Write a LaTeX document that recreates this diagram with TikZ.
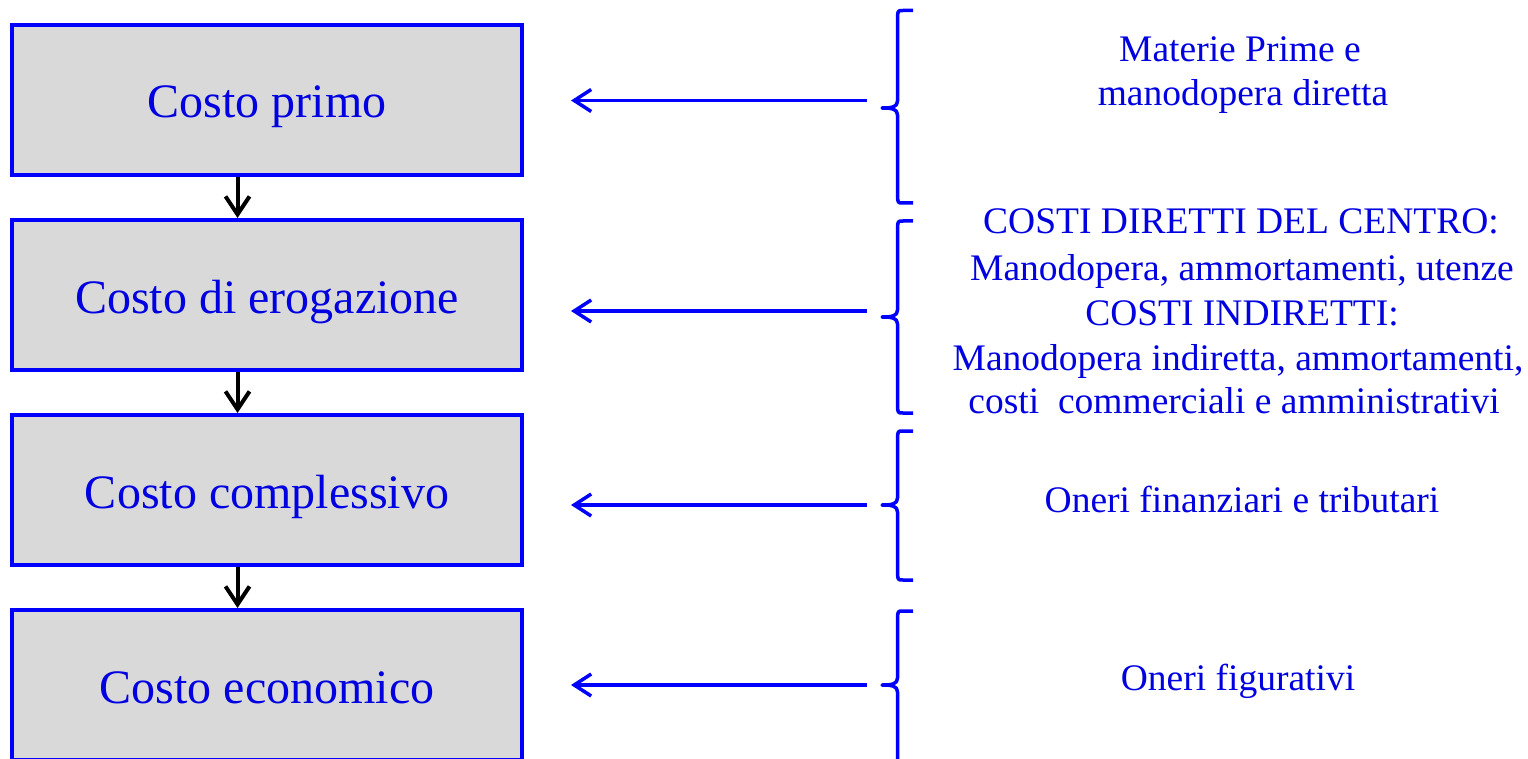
\documentclass[tikz,border=0pt]{standalone}
\usepackage{fontspec}
\setmainfont{Liberation Serif}
\usetikzlibrary{arrows.meta}
\definecolor{lineblue}{RGB}{0,0,255}
\definecolor{textblue}{RGB}{0,0,225}
\definecolor{boxgray}{RGB}{217,217,217}
\tikzset{
  costbox/.style={draw=lineblue, fill=boxgray, line width=4pt, inner sep=0pt,
    minimum width=510pt, minimum height=150pt},
  boxtext/.style={text=textblue, font=\fontsize{48}{56}\selectfont, anchor=base, inner sep=0pt},
  sidetext/.style={text=textblue, font=\fontsize{37.5}{44}\selectfont, anchor=base, inner sep=0pt},
  downarrow/.style={draw=black, line width=4pt, -{Straight Barb[length=18pt,width=24pt]}},
  bluearrow/.style={draw=lineblue, line width=3.5pt, -{Straight Barb[length=17pt,width=22pt]}},
  bracestyle/.style={draw=lineblue, line width=3.5pt, line join=round}
}
\newcommand{\sidebrace}[3]{%
  \draw[bracestyle] (913,#1) -- (903,#1) .. controls (898,#1) .. (897.5,#1+6) -- (897.5,#2-7)
    .. controls (897.5,#2-1) and (892,#2) .. (882,#2)
    .. controls (892,#2) and (897.5,#2+1) .. (897.5,#2+7) -- (897.5,#3-6)
    .. controls (898,#3) .. (903,#3) -- (913,#3);}
\begin{document}
\begin{tikzpicture}[x=1pt,y=-1pt]
\clip (0,0) rectangle (1528,759);
\fill[white] (0,0) rectangle (1528,759);

% boxes
\node[costbox] (b1) at (267,100) {};
\node[costbox] (b2) at (267,295) {};
\node[costbox] (b3) at (267,490) {};
\node[costbox] (b4) at (267,685) {};

\node[boxtext] (t1) at (267,118) {Costo primo};
\node[boxtext] (t2) at (267,313) {Costo di erogazione};
\node[boxtext] (t3) at (267,508) {Costo complessivo};
\node[boxtext] (t4) at (267,703) {Costo economico};

% down arrows
\draw[downarrow] ([xshift=-29.5pt]b1.south) -- ([xshift=-29.5pt]b2.north);
\draw[downarrow] ([xshift=-29.5pt]b2.south) -- ([xshift=-29.5pt]b3.north);
\draw[downarrow] ([xshift=-29.5pt]b3.south) -- ([xshift=-29.5pt]b4.north);

% braces
\sidebrace{10.5}{108}{203}
\sidebrace{221}{317}{413}
\sidebrace{431}{505}{580}
\sidebrace{611}{685}{795}

% arrow tails
\coordinate (a1) at (867,100.5);
\coordinate (a2) at (867,311);
\coordinate (a3) at (867,505);
\coordinate (a4) at (867,685);
\draw[bluearrow, shorten >=47pt] (a1) -- (a1 -| b1.east);
\draw[bluearrow, shorten >=47pt] (a2) -- (a2 -| b2.east);
\draw[bluearrow, shorten >=47pt] (a3) -- (a3 -| b3.east);
\draw[bluearrow, shorten >=47pt] (a4) -- (a4 -| b4.east);

% side texts
\node[sidetext] (s1a) at (1240,62) {Materie Prime e};
\node[sidetext] (s1b) at (1243,106) {manodopera diretta};

\node[sidetext] (s2a) at (1241,234) {COSTI DIRETTI DEL CENTRO:};
\node[sidetext] (s2b) at (1242,280) {Manodopera, ammortamenti, utenze};
\node[sidetext] (s2c) at (1242,325) {COSTI INDIRETTI:};
\node[sidetext] (s2d) at (1238,370) {Manodopera indiretta, ammortamenti,};
\node[sidetext] (s2e) at (1234,413) {costi\ \ commerciali e amministrativi};

\node[sidetext] (s3) at (1242,512) {Oneri finanziari e tributari};
\node[sidetext] (s4) at (1238,690) {Oneri figurativi};
\end{tikzpicture}
\end{document}
